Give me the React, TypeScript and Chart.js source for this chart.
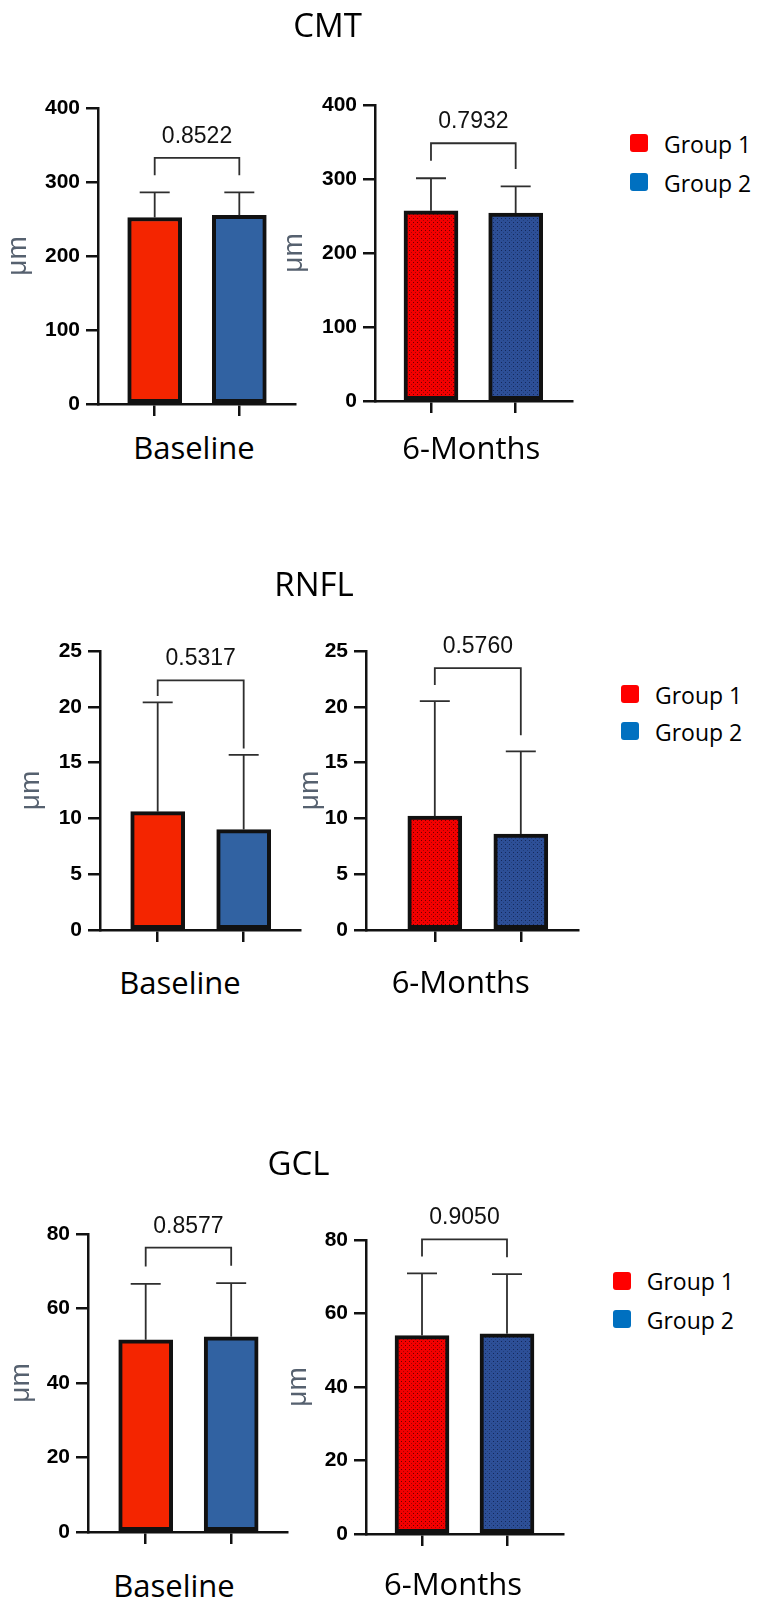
import React, { useEffect, useRef } from 'react';
import { Chart, registerables } from 'chart.js';

Chart.register(...registerables);

// ---------------- data ----------------
const groups = ['Group 1', 'Group 2'];
const timepoints = ['Baseline', '6-Months'];
const measures = ['CMT', 'RNFL', 'GCL'];

const cmtBaselineMean = [252, 255];
const cmtBaselineSD = [34, 31];
const cmt6mMean = [257, 254];
const cmt6mSD = [44, 36];

const rnflBaselineMean = [10.6, 9.0];
const rnflBaselineSD = [9.8, 6.7];
const rnfl6mMean = [10.2, 8.6];
const rnfl6mSD = [10.3, 7.4];

const gclBaselineMean = [51.6, 52.4];
const gclBaselineSD = [15.0, 14.4];
const gcl6mMean = [54.0, 54.5];
const gcl6mSD = [16.9, 16.2];

const pValues = ['0.8522', '0.7932', '0.5317', '0.5760', '0.8577', '0.9050'];
const yMax = [400, 25, 80];
const yStep = [100, 5, 20];

const means = [cmtBaselineMean, cmt6mMean, rnflBaselineMean, rnfl6mMean, gclBaselineMean, gcl6mMean];
const sds = [cmtBaselineSD, cmt6mSD, rnflBaselineSD, rnfl6mSD, gclBaselineSD, gcl6mSD];

// ---------------- layout / style ----------------
const PAD_TOP = 60;
const X_SCALE_H = 20;
const panelLayout = [
  { L: 98, T: 108, R: 295, B: 404, a: 0.670, b: 0.658, muX: 23.3, gap: 34.5, leg: 17, cl: 0, lx: 193.9, ly: 448 },
  { L: 375, T: 105, R: 572, B: 401, a: 0.661, b: 0.665, muX: 299.7, gap: 35, leg: 17.5, cl: 280, lx: 471.3, ly: 448 },
  { L: 100, T: 651, R: 300, B: 930, a: 0.671, b: 0.655, muX: 35.8, gap: 22, leg: 6.4, cl: 0, lx: 180, ly: 983 },
  { L: 366, T: 651, R: 578, B: 930, a: 0.8, b: 0.665, muX: 315, gap: 33, leg: 16.2, cl: 280, lx: 460.7, ly: 982 },
  { L: 88, T: 1234, R: 287, B: 1532, a: 0.675, b: 0.653, muX: 25.8, gap: 35.5, leg: 17.3, cl: 0, lx: 174, ly: 1586 },
  { L: 366, T: 1240, R: 563, B: 1534, a: 0.659, b: 0.659, muX: 303.3, gap: 34, leg: 17, cl: 280, lx: 453, ly: 1584 },
];
const titlePos = [
  { x: 327.5, y: 25.3 },
  { x: 314, y: 584 },
  { x: 298.5, y: 1163 },
];
const legendPos = [
  { sx: 630, y1: 143, y2: 182, tx: 664 },
  { sx: 621, y1: 694.3, y2: 731, tx: 655 },
  { sx: 613.3, y1: 1280.5, y2: 1319, tx: 646.7 },
];

const AXIS = '#111111';
const LEGEND_COLORS = ['#ff0000', '#0070c0'];
const SANS = '"Open Sans", "Noto Sans", sans-serif';
const ARIAL = '"Liberation Sans", Arial, sans-serif';

function makePattern(base: string, dot: string, dot2: string) {
  const c = document.createElement('canvas');
  c.width = 4;
  c.height = 4;
  const g = c.getContext('2d')!;
  g.fillStyle = base;
  g.fillRect(0, 0, 4, 4);
  g.fillStyle = dot;
  g.fillRect(1, 1, 1, 1);
  g.fillStyle = dot2;
  g.fillRect(3, 3, 1, 1);
  return g.createPattern(c, 'repeat');
}

const errorBracketPlugin = {
  id: 'errorBracket',
  afterDatasetsDraw(chart: any, _args: any, opts: any) {
    const { ctx } = chart;
    const meta = chart.getDatasetMeta(0);
    const ys = chart.scales.y;
    const data = chart.data.datasets[0].data;
    const tops: number[] = [];
    const xs: number[] = [];
    ctx.save();
    ctx.strokeStyle = '#2e2e2e';
    ctx.lineWidth = 1.8;
    meta.data.forEach((bar: any, i: number) => {
      const top = ys.getPixelForValue(data[i].y + opts.sd[i]);
      tops.push(top);
      xs.push(bar.x);
      ctx.beginPath();
      ctx.moveTo(bar.x, bar.y);
      ctx.lineTo(bar.x, top);
      ctx.moveTo(bar.x - 15, top);
      ctx.lineTo(bar.x + 15, top);
      ctx.stroke();
    });
    const yb = Math.min(tops[0], tops[1]) - opts.gap;
    ctx.beginPath();
    ctx.moveTo(xs[0], tops[0] - opts.leg);
    ctx.lineTo(xs[0], yb);
    ctx.lineTo(xs[1], yb);
    ctx.lineTo(xs[1], tops[1] - opts.leg);
    ctx.stroke();
    ctx.fillStyle = '#111';
    ctx.font = `23px ${ARIAL}`;
    ctx.textAlign = 'center';
    ctx.textBaseline = 'alphabetic';
    ctx.fillText(opts.p, (xs[0] + xs[1]) / 2, yb - 15);
    ctx.restore();
  },
};

function Panel({ idx }: { idx: number }) {
  const ref = useRef<HTMLCanvasElement>(null);
  const lay = panelLayout[idx];
  const m = Math.floor(idx / 2);
  const t = idx % 2;
  const width = lay.R - lay.cl + 6;
  const height = PAD_TOP + (lay.B - lay.T) + X_SCALE_H;
  const top = lay.T - PAD_TOP;

  useEffect(() => {
    const colors =
      t === 0
        ? ['#f42500', '#3162a2']
        : [makePattern('#f30000', '#6a0000', '#a80000'), makePattern('#2d4f97', '#14285a', '#213f7a')];
    const muSize = 28;
    const grid = {
      display: true,
      drawOnChartArea: false,
      drawTicks: true,
      tickLength: 12,
      color: AXIS,
      tickColor: AXIS,
      lineWidth: 2.5,
      offset: false,
    };
    const border = { display: true, color: AXIS, width: 2.5 };
    const chart = new Chart(ref.current!, {
      type: 'bar',
      data: {
        datasets: [
          {
            label: measures[m] + ' ' + timepoints[t],
            data: means[idx].map((v, i) => ({ x: i + 1, y: v })),
            backgroundColor: colors as any,
            borderColor: AXIS,
            borderWidth: 4,
            borderSkipped: false,
            barThickness: 54,
          },
        ],
      },
      options: {
        responsive: false,
        animation: false,
        events: [],
        layout: { padding: { left: 0, top: PAD_TOP, right: 6, bottom: 0 } },
        plugins: {
          legend: { display: false },
          tooltip: { enabled: false },
          errorBracket: { sd: sds[idx], p: pValues[idx], gap: lay.gap, leg: lay.leg },
        } as any,
        scales: {
          x: {
            type: 'linear',
            offset: false,
            min: 1 - lay.a,
            max: 2 + lay.b,
            afterBuildTicks: (s: any) => {
              s.ticks = groups.map((_, i) => ({ value: i + 1 }));
            },
            ticks: { display: false },
            grid,
            border,
            afterFit: (s: any) => {
              s.height = X_SCALE_H;
            },
          },
          y: {
            min: 0,
            max: yMax[m],
            ticks: {
              stepSize: yStep[m],
              color: '#000',
              padding: 6,
              font: { family: ARIAL, weight: 'bold', size: 21 },
            },
            grid,
            border,
            title: {
              display: true,
              text: 'μm',
              color: '#56616f',
              font: { family: ARIAL, size: muSize, lineHeight: 1 },
              padding: { top: lay.muX - 5 - lay.cl - muSize / 2, bottom: 0 },
            },
            afterFit: (s: any) => {
              s.width = lay.L - lay.cl;
            },
          },
        },
      } as any,
      plugins: [errorBracketPlugin],
    });
    return () => chart.destroy();
  }, [idx]);

  return (
    <canvas
      ref={ref}
      width={width}
      height={height}
      style={{ position: 'absolute', left: lay.cl, top, width, height }}
    />
  );
}

function Text({ x, y, size, children, align = 'center' }: any) {
  return (
    <div
      style={{
        position: 'absolute',
        left: x,
        top: y - 0.03 * size,
        transform: align === 'center' ? 'translate(-50%, -50%)' : 'translate(0, -50%)',
        fontFamily: SANS,
        fontSize: size,
        lineHeight: 1,
        whiteSpace: 'nowrap',
        color: '#000',
      }}
    >
      {children}
    </div>
  );
}

export default function App() {
  useEffect(() => {
    document.body.style.margin = '0';
  }, []);
  return (
    <div
      style={{
        position: 'absolute',
        left: 0,
        top: 0,
        width: 759,
        height: 1606,
        background: '#fff',
        overflow: 'hidden',
      }}
    >
      {panelLayout.map((_, i) => (
        <Panel key={i} idx={i} />
      ))}
      {measures.map((name, m) => (
        <Text key={'t' + m} x={titlePos[m].x} y={titlePos[m].y} size={33}>
          {name}
        </Text>
      ))}
      {panelLayout.map((lay, i) => (
        <Text key={'x' + i} x={lay.lx} y={lay.ly} size={31}>
          {timepoints[i % 2]}
        </Text>
      ))}
      {legendPos.map((lp, m) =>
        groups.map((g, gi) => {
          const cy = gi === 0 ? lp.y1 : lp.y2;
          return (
            <React.Fragment key={'l' + m + gi}>
              <div
                style={{
                  position: 'absolute',
                  left: lp.sx,
                  top: cy - 9,
                  width: 18,
                  height: 18,
                  borderRadius: 3,
                  background: LEGEND_COLORS[gi],
                }}
              />
              <Text x={lp.tx} y={cy + 1.5} size={23} align="left">
                {g}
              </Text>
            </React.Fragment>
          );
        })
      )}
    </div>
  );
}
